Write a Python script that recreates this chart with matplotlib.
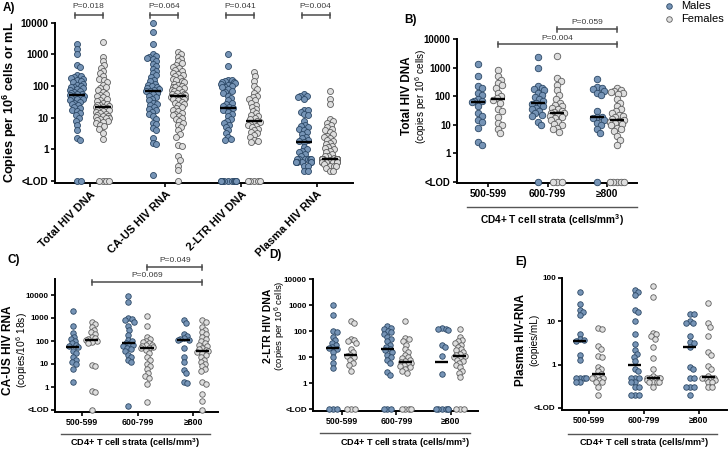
import numpy as np
import matplotlib
matplotlib.use('Agg')
import matplotlib.pyplot as plt
from matplotlib.lines import Line2D
from matplotlib.transforms import blended_transform_factory

plt.rcParams['font.family'] = ['Liberation Sans', 'DejaVu Sans']
plt.rcParams['mathtext.default'] = 'regular'

LOD = 0.1

# ---- panel A: all participants, copies per 10^6 cells (or per mL for plasma)
tot_m = [2200, 1450, 1000, 460, 390, 220, 200, 190, 180, 170, 150, 140, 130, 120, 110, 100, 95, 90,
         85, 80, 75, 70, 65, 60, 58, 55, 52, 50, 48, 45, 42, 40, 38, 35, 32, 30, 28, 25, 22, 20, 18,
         16, 14, 12, 10, 8, 6, 4.2, 2.3, 2.0, LOD, LOD]
tot_f = [2500, 850, 600, 450, 380, 300, 250, 200, 170, 150, 130, 110, 95, 85, 75, 65, 58, 52, 48, 44,
         40, 36, 33, 30, 28, 26, 25, 24, 22, 21, 20, 19, 18, 17, 16, 15, 14, 13, 12, 11.5, 11, 10.5,
         10, 9.5, 9, 8.5, 8, 7.5, 7, 6, 5.3, 4.5, 3.2, 2.1, LOD, LOD, LOD, LOD]
cau_m = [9500, 5000, 2100, 1000, 900, 850, 780, 700, 600, 500, 420, 350, 300, 250, 220, 190, 160, 140,
         120, 110, 100, 92, 85, 80, 75, 72, 68, 62, 55, 50, 45, 40, 35, 30, 28, 25, 22, 19, 17, 15, 13,
         11, 9, 7, 6.5, 4.7, 4.2, 2.2, 1.6, 1.5, 0.16]
cau_f = [1200, 1000, 850, 700, 600, 520, 450, 400, 360, 320, 290, 260, 240, 220, 200, 180, 165, 150,
         140, 130, 120, 110, 100, 95, 90, 85, 80, 75, 70, 66, 62, 58, 55, 52, 50, 47, 46, 45, 42, 40,
         38, 35, 32, 30, 27, 25, 22, 20, 18, 16, 14, 13, 12, 11, 10, 9, 8, 7, 6, 5, 4, 3, 2.5, 1.4,
         1.3, 0.6, 0.45, 0.3, 0.22, LOD]
l2_m = [1000, 420, 160, 150, 140, 135, 130, 125, 120, 110, 100, 95, 90, 80, 70, 65, 60, 50, 42, 35,
        30, 27, 24, 22, 20, 19, 17, 15, 13, 11, 9, 8, 7, 6, 5, 4, 3.2, 2.5, 2.1, 2.0,
        LOD, LOD, LOD, LOD, LOD, LOD, LOD, LOD, LOD, LOD]
l2_f = [270, 200, 140, 100, 80, 60, 50, 45, 40, 35, 30, 26, 22, 19, 16, 14, 12, 11, 10, 9, 7.8, 7.5,
        7, 6.5, 6, 5.5, 5, 4.5, 4, 3.6, 3.2, 2.8, 2.4, 2.0, 1.8, 1.7, LOD, LOD, LOD, LOD, LOD]
pl_m = [55, 50, 48, 45, 40, 18, 17, 15, 13, 12, 8, 6, 5.5, 5, 4.5, 4, 3.5, 3, 2.5, 2.2, 2, 1.9, 1.7,
        1.2, 1.0, 0.9, 0.8, 0.7, 0.6, 0.5, 0.5, 0.5, 0.5, 0.5, 0.5, 0.4, 0.4, 0.4, 0.4, 0.4, 0.4,
        0.3, 0.3, 0.2, 0.2]
pl_f = [70, 38, 28, 9, 8, 7, 6, 5, 4.5, 4, 3.5, 3, 2.7, 2.5, 2.2, 2, 1.8, 1.6, 1.5, 1.3, 1.2, 1.1,
        1.0, 0.9, 0.8, 0.7, 0.6, 0.6, 0.55, 0.5, 0.5, 0.5, 0.5, 0.5, 0.5, 0.5, 0.5, 0.5, 0.5, 0.5,
        0.5, 0.5, 0.5, 0.45, 0.4, 0.4, 0.4, 0.4, 0.4, 0.4, 0.4, 0.4, 0.35, 0.3, 0.3, 0.3, 0.25,
        0.2, 0.2]
markers_a = ['Total HIV DNA', 'CA-US HIV RNA', '2-LTR HIV DNA', 'Plasma HIV RNA']
p_a = ['P=0.018', 'P=0.064', 'P=0.041', 'P=0.004']

# ---- panels B-E: by CD4+ T cell strata
strata = ['500-599', '600-799', '\u2265800']

dna_m = [[1300, 500, 230, 190, 130, 110, 80, 70, 66, 62, 45, 25, 20, 15, 13, 8, 2.5, 2.0],
         [2300, 950, 220, 200, 180, 160, 130, 110, 95, 80, 70, 60, 55, 50, 45, 40, 35, 30, 25, 22,
          20, 13, 10, LOD],
         [400, 210, 190, 180, 150, 130, 110, 30, 18.5, 18, 17, 15, 12, 10, 7, 5, LOD]]
dna_f = [[850, 500, 380, 290, 250, 200, 130, 100, 85, 75, 60, 35, 30, 19, 12, 10, 7, 5],
         [2600, 420, 350, 250, 160, 110, 80, 60, 50, 45, 40, 35, 30, 28, 26, 25, 23, 21, 19, 17, 15,
          13, 11, 10, 8, 7, 5.5, LOD, LOD, LOD],
         [200, 160, 150, 140, 130, 120, 80, 60, 45, 35, 30, 25, 22, 20, 18, 16, 15, 14, 13, 12, 11,
          10, 8, 7, 6, 4, 3, 2, LOD, LOD, LOD, LOD, LOD]]

cau_s_m = [[2000, 450, 220, 150, 120, 100, 80, 65, 60, 55, 35, 30, 20, 15, 12, 10, 6, 1.7],
           [9000, 5000, 1000, 900, 800, 700, 450, 300, 180, 110, 100, 80, 70, 65, 60, 50, 45, 35, 25,
            20, 15, 12, 0.15],
           [850, 600, 200, 160, 130, 120, 115, 110, 50, 20, 12, 5.5, 4, 1.7, 1.5]]
cau_s_f = [[650, 550, 400, 300, 250, 200, 150, 130, 120, 110, 100, 90, 80, 9, 8, 0.65, 0.6, LOD],
           [1200, 450, 150, 120, 100, 90, 80, 70, 65, 60, 55, 50, 48, 40, 30, 20, 15, 10, 8, 6, 4, 3,
            2.5, 1.3, 0.22],
           [800, 650, 400, 300, 250, 200, 150, 120, 100, 80, 70, 60, 50, 45, 40, 36, 34, 30, 25, 20,
            15, 12, 10, 8, 6, 5, 1.6, 1.3, 0.5, 0.25, LOD]]

l2_s_m = [[1000, 400, 100, 90, 60, 45, 35, 28, 24, 22, 20, 15, 10, 6, 3.7, LOD, LOD, LOD],
          [150, 130, 120, 100, 90, 80, 60, 50, 40, 30, 25, 20, 18, 15, 12, 10, 8, 6, 2.6, 2.0,
           LOD, LOD, LOD],
          [125, 120, 115, 110, 28, 25, 10.5, 2.2, LOD, LOD, LOD, LOD, LOD, LOD]]
l2_s_f = [[250, 200, 50, 45, 40, 35, 20, 15, 12, 11, 10, 8, 6, 5, 3, LOD, LOD, LOD],
          [250, 55, 50, 40, 30, 20, 15, 12, 10, 9, 8, 7, 6.5, 6, 5.5, 5, 4.5, 4, 3.5, 3, 2.5,
           LOD, LOD, LOD, LOD],
          [120, 60, 45, 40, 35, 30, 25, 20, 18, 15, 13, 12, 11, 10, 9, 8, 7, 6, 5, 4, 3, 2.5, 1.7,
           LOD, LOD, LOD]]

pl_s_m = [[47, 25, 18, 16, 14, 5.2, 4, 3.8, 3.6, 1.7, 1.3, 0.5, 0.5, 0.5, 0.5, 0.4, 0.4],
          [52, 48, 40, 18, 16, 10, 5, 3, 2.2, 1.8, 1.5, 1.2, 0.8, 0.7, 0.5, 0.5, 0.5, 0.4, 0.4, 0.3,
           0.3, 0.2, 0.2, 0.2],
          [15, 15, 10, 9, 9, 4.5, 3.3, 3.2, 2.5, 0.9, 0.8, 0.5, 0.5, 0.3, 0.3, 0.3, 0.2]]
pl_s_f = [[7, 6.5, 2.7, 2.3, 1.6, 1.5, 0.9, 0.8, 0.7, 0.6, 0.55, 0.5, 0.5, 0.5, 0.45, 0.4, 0.4, 0.3,
           0.2],
          [66, 37, 5.5, 5, 4.5, 4, 2.6, 1.4, 0.8, 0.55, 0.5, 0.5, 0.5, 0.5, 0.5, 0.45, 0.4, 0.4, 0.4,
           0.4, 0.3],
          [27, 9, 7.5, 4.7, 2, 1.7, 0.95, 0.8, 0.55, 0.5, 0.5, 0.5, 0.5, 0.45, 0.4, 0.4, 0.3, 0.3]]

MALE_FC, MALE_EC = '#7694b6', '#2c4866'
FEM_FC, FEM_EC = '#dedede', '#5e5e5e'
W, H = 728, 450

fig = plt.figure(figsize=(W / 100, H / 100), dpi=100)


def px_axes(l, t, r, b):
    return fig.add_axes([l / W, 1 - b / H, (r - l) / W, (b - t) / H])


def swarm(ax, xc, vals, d, cap):
    # simple beeswarm in pixel space, then squeeze the widest rows towards the column
    pts = ax.transData.transform(np.column_stack([np.full(len(vals), xc), vals]))
    ys = pts[:, 1]
    offs = np.zeros(len(vals))
    placed = []
    for i in np.argsort(-ys, kind='stable'):
        y = ys[i]
        cands = [0.0]
        for px, py in placed:
            dy = abs(py - y)
            if dy < d:
                dx = np.sqrt(d * d - dy * dy)
                cands += [px + dx, px - dx]
        cands.sort(key=abs)
        for c in cands:
            if all((c - px) ** 2 + (y - py) ** 2 >= d * d - 1e-6 for px, py in placed):
                break
        placed.append((c, y))
        offs[i] = c
    offs = cap * np.tanh(offs / cap)
    back = ax.transData.inverted().transform(np.column_stack([pts[:, 0] + offs, ys]))
    return back[:, 0]


def style(ax, ylim, yticks, ylabels, xlim, xticks, xlabels, fs):
    ax.set_yscale('log')
    ax.set_ylim(*ylim)
    ax.set_xlim(*xlim)
    ax.minorticks_off()
    ax.set_yticks(yticks)
    ax.set_yticklabels(ylabels)
    ax.set_xticks(xticks)
    ax.set_xticklabels(xlabels)
    for s in ['top', 'right']:
        ax.spines[s].set_visible(False)
    for s in ['left', 'bottom']:
        ax.spines[s].set_linewidth(1.4)
    ax.tick_params(direction='out', length=3, width=1.2, labelsize=fs[0], pad=1.5)
    ax.tick_params(axis='x', labelsize=fs[1])
    for t in ax.get_xticklabels() + ax.get_yticklabels():
        t.set_fontweight('bold')


def draw_groups(ax, males, females, off, msz, d, cap, half):
    for i, (vm, vf) in enumerate(zip(males, females)):
        for vals, x, fc, ec in [(vm, i - off, MALE_FC, MALE_EC), (vf, i + off, FEM_FC, FEM_EC)]:
            xs = swarm(ax, x, vals, d, cap)
            ax.scatter(xs, vals, s=(msz * 0.72) ** 2, facecolor=fc, edgecolor=ec,
                       linewidth=0.6, zorder=3, clip_on=False)
            med = np.median(vals)
            ax.plot([x - half, x + half], [med, med], color='black', lw=1.7, zorder=4,
                    solid_capstyle='butt')


def bracket(ax, x1, x2, yb, yt, text, hpx):
    tr = blended_transform_factory(ax.transData, ax.transAxes)
    tk = 2.5 / hpx
    ax.plot([x1, x2], [yb, yb], color='#4a4a4a', lw=1.1, transform=tr, clip_on=False)
    for x in (x1, x2):
        ax.plot([x, x], [yb - tk, yb + tk], color='#4a4a4a', lw=1.1, transform=tr, clip_on=False)
    ax.text((x1 + x2) / 2, yt, text, transform=tr, ha='center', va='center', fontsize=6,
            color='#3a3a3a')


dec_ticks = [LOD, 1, 10, 100, 1000, 10000]
dec_labels = ['<LOD', '1', '10', '100', '1000', '10000']

# ---- A
axA = px_axes(55, 22.7, 353, 183)
style(axA, (10 ** (-1 - 2 / 31.66), 1e4), dec_ticks, dec_labels, (-0.46, 3.48), range(4),
      markers_a, (7.2, 8))
for t in axA.get_xticklabels():
    t.set_rotation(45)
    t.set_ha('right')
    t.set_rotation_mode('anchor')
draw_groups(axA, [tot_m, cau_m, l2_m, pl_m], [tot_f, cau_f, l2_f, pl_f], 0.17, 6, 4.2, 7.5, 0.106)
for i, p in enumerate(p_a):
    bracket(axA, i - 0.2, i + 0.17, 1.048, 1.1, p, 160.3)

# ---- B
axB = px_axes(457, 39, 637, 183)
style(axB, (10 ** (-1 - 1 / 28.6), 1e4), dec_ticks, dec_labels, (-0.52, 2.5), range(3), strata,
      (6.9, 7.3))
draw_groups(axB, dna_m, dna_f, 0.165, 6.5, 5.0, 8, 0.118)
bracket(axB, 0.165, 2.165, 0.963, 1.0, 'P=0.004', 144)
bracket(axB, 1.165, 2.165, 1.067, 1.118, 'P=0.059', 144)

# ---- C
axC = px_axes(55, 279, 218, 411.7)
style(axC, (10 ** (-1 - 1.7 / 23), 10 ** (4 + 16 / 23)), dec_ticks, dec_labels, (-0.49, 2.45),
      range(3), strata, (5.8, 6.3))
draw_groups(axC, cau_s_m, cau_s_f, 0.17, 5.5, 4.2, 7, 0.118)
bracket(axC, 0.17, 2.17, 0.977, 1.023, 'P=0.069', 132.7)
bracket(axC, 1.17, 2.17, 1.090, 1.136, 'P=0.049', 132.7)

# ---- D
axD = px_axes(313, 279, 478, 411)
style(axD, (10 ** (-1 - 2 / 26), 1e4), dec_ticks, dec_labels, (-0.53, 2.5), range(3), strata,
      (5.8, 6.3))
draw_groups(axD, l2_s_m, l2_s_f, 0.165, 5.5, 4.2, 7, 0.12)

# ---- E
axE = px_axes(562, 278, 727, 410)
style(axE, (10 ** (-1 - 2 / 43.3), 100), [LOD, 1, 10, 100], ['<LOD', '1', '10', '100'],
      (-0.49, 2.51), range(3), strata, (5.8, 6.3))
draw_groups(axE, pl_s_m, pl_s_f, 0.165, 5.5, 4.2, 7, 0.118)

# strata underline + x titles
for ax, x0, x1, yl, xc, yc, fs in [(axB, 0.055, 1.0, -0.167, 0.53, -0.257, 7.3),
                                   (axC, 0.037, 0.95, -0.168, 0.49, -0.236, 6.6),
                                   (axD, 0.042, 0.95, -0.167, 0.56, -0.24, 6.6),
                                   (axE, 0.036, 0.94, -0.18, 0.5, -0.25, 6.6)]:
    ax.plot([x0, x1], [yl, yl], color='#555555', lw=1.0, transform=ax.transAxes, clip_on=False)
    ax.text(xc, yc, 'CD4+ T cell strata (cells/mm$^{3}$)', transform=ax.transAxes, ha='center',
            va='center', fontsize=fs, fontweight='bold')


def ftext(x, y, s, **kw):
    fig.text(x / W, 1 - y / H, s, **kw)


# y labels
ftext(10, 102, 'Copies per 10$^{6}$ cells or mL', rotation=90, ha='center', va='center',
      fontsize=9.2, fontweight='bold')
for x1, x2, y, l1, l2, f1, f2 in [(407, 421, 96, 'Total HIV DNA', '(copies per 10$^{6}$ cells)', 8.5, 7.2),
                                  (8, 22, 350, 'CA-US HIV RNA', '(copies/10$^{6}$ 18s)', 8.6, 7.4),
                                  (268, 280, 326, '2-LTR HIV DNA', '(copies per 10$^{6}$ cells)', 7.5, 6.8),
                                  (521, 534, 340, 'Plasma HIV-RNA', '(copies/mL)', 8.4, 7.2)]:
    ftext(x1, y, l1, rotation=90, ha='center', va='center', fontsize=f1, fontweight='bold')
    ftext(x2, y, l2, rotation=90, ha='center', va='center', fontsize=f2)

# panel letters
for x, y, s in [(3, 8, 'A)'), (404, 20, 'B)'), (7, 260, 'C)'), (269, 255, 'D)'), (515, 262, 'E)')]:
    ftext(x, y, s, ha='left', va='center', fontsize=8.5, fontweight='bold')

# legend
for y, lab, fc, ec in [(6, 'Males', MALE_FC, MALE_EC), (19, 'Females', FEM_FC, FEM_EC)]:
    fig.add_artist(Line2D([669 / W], [1 - y / H], marker='o', markersize=4, markerfacecolor=fc,
                          markeredgecolor=ec, markeredgewidth=0.6, linestyle='none',
                          transform=fig.transFigure))
    ftext(681, y, lab, ha='left', va='center', fontsize=8)

fig.savefig('out.png', dpi=100)
